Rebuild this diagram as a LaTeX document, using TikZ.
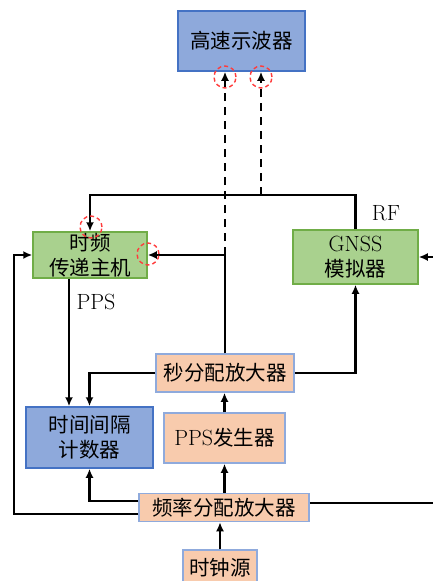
\documentclass[tikz,border=0pt]{standalone}
\usepackage{fontspec}
\newfontfamily\cjk{Noto Sans CJK SC}
\usetikzlibrary{arrows.meta}
\definecolor{bfill}{HTML}{8EA9DB}
\definecolor{bdraw}{HTML}{4472C4}
\definecolor{gfill}{HTML}{A9D18E}
\definecolor{gdraw}{HTML}{70AD47}
\definecolor{ofill}{HTML}{F8CBAD}
\definecolor{odraw}{HTML}{8FAADC}
\definecolor{mark}{HTML}{FF3B3B}
\tikzset{
  box/.style={draw, line width=1.5pt, inner sep=0pt, align=center,
    font=\fontsize{20.5}{25}\selectfont},
  bluebox/.style={box, fill=bfill, draw=bdraw},
  greenbox/.style={box, fill=gfill, draw=gdraw},
  orangebox/.style={box, fill=ofill, draw=odraw},
  arr/.style={line width=2.5pt, -{Latex[length=9pt,width=8pt]}},
  ln/.style={line width=2.5pt},
  dsh/.style={line width=2.6pt, dash pattern=on 8pt off 6pt},
  ring/.style={draw=mark, line width=1.4pt, dash pattern=on 4pt off 3pt},
  lbl/.style={font=\fontsize{22}{25}\selectfont}
}
\begin{document}
\begin{tikzpicture}[x=1pt,y=-1pt]
\useasboundingbox (0,0) rectangle (433,581);
\node[bluebox, minimum width=127pt, minimum height=60pt] (osc) at (241.5,41) {\cjk 高速示波器};
\node[greenbox, minimum width=114pt, minimum height=46pt] (tf) at (90,255) {\cjk 时频\\\cjk 传递主机};
\node[greenbox, minimum width=125pt, minimum height=54pt] (gnss) at (355.5,257) {{\fontsize{22}{25}\selectfont GNSS}\\\cjk 模拟器};
\node[orangebox, minimum width=138pt, minimum height=38pt] (sfa) at (225,373) {\cjk 秒分配放大器};
\node[bluebox, minimum width=127pt, minimum height=61pt] (tic) at (89.5,437.5) {\cjk 时间间隔\\\cjk 计数器};
\node[orangebox, minimum width=121pt, minimum height=50pt] (ppsg) at (224.5,438) {{\fontsize{22}{25}\selectfont PPS}{\cjk 发生器}};
\node[orangebox, minimum width=170pt, minimum height=28pt] (ffa) at (224,507.5) {\cjk 频率分配放大器};
\node[orangebox, minimum width=74pt, minimum height=36pt] (clk) at (220,568) {\cjk 时钟源};

\node[lbl] (rf) at (386,213) {RF};
\node[lbl] (pps) at (96,302) {PPS};

\coordinate (rfy) at (0,195);
\coordinate (lft) at (14,0);
\coordinate (d1) at (225,255);
\coordinate (d2) at (261,195);
\coordinate (rin) at (440,257);
\coordinate (rout) at (440,503);

% RF distribution
\draw[arr] (gnss.north) |- (tf.north |- rfy) -- (tf.north);
\draw[dsh, -{Latex[length=9pt,width=8pt]}] (d1) -- (osc.south -| d1);
\draw[dsh, -{Latex[length=9pt,width=8pt]}] (d2) -- (osc.south -| d2);

% PPS paths
\draw[arr] (sfa.north) |- (tf.east);
\draw[arr] (sfa.east) -| (gnss.south);
\draw[arr] (sfa.west) -| (tic.north);
\draw[arr] ([xshift=-21pt]tf.south) -- ([xshift=-21pt]tf.south |- tic.north);
\draw[arr] (ppsg.north) -- (sfa.south -| ppsg.north);
\draw[arr] (ffa.north -| ppsg.south) -- (ppsg.south);
\draw[arr] (clk.north) -- (clk.north |- ffa.south);

% frequency paths
\draw[arr] ([yshift=6.5pt]ffa.west) -| (tic.south);
\draw[arr] ([yshift=-6.5pt]ffa.west) -| (lft |- tf.west) -- (tf.west);
\draw[ln] ([yshift=4.5pt]ffa.east) -- (rout);
\draw[arr] (rin) -- (gnss.east);

% red marks
\draw[ring] (225,77) circle (11pt);
\draw[ring] (261,77) circle (11pt);
\draw[ring] (91,227) circle (11pt);
\draw[ring] (148,254) circle (11pt);
\end{tikzpicture}
\end{document}
